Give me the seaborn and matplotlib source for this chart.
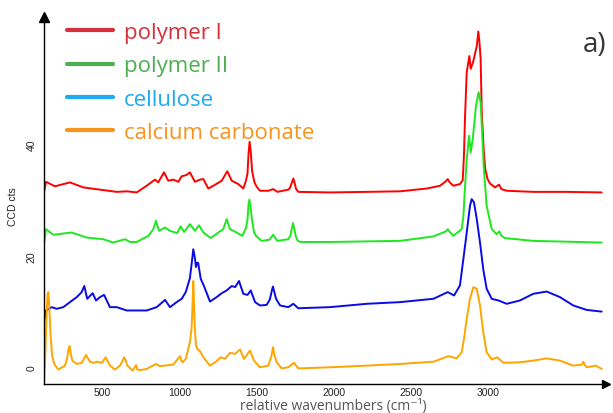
import numpy as np
import pandas as pd
import matplotlib
matplotlib.use("Agg")
import matplotlib.pyplot as plt
from matplotlib.lines import Line2D
import seaborn as sns

# ---------------- data ----------------
series_names = ["polymer I", "polymer II", "cellulose", "calcium carbonate"]

red_wn = [122, 135, 193, 290, 377, 485, 593, 658, 722, 787, 841, 862, 899, 927, 960, 992,
          1014, 1042, 1067, 1100, 1132, 1154, 1186, 1219, 1273, 1309, 1338, 1380, 1413, 1430,
          1440, 1447, 1454, 1461, 1470, 1485, 1500, 1521, 1575, 1607, 1633, 1704, 1715, 1729,
          1737, 1744, 1755, 1770, 1974, 2212, 2428, 2601, 2687, 2725, 2737, 2750, 2773, 2816,
          2834, 2842, 2849, 2860, 2877, 2886, 2903, 2925, 2935, 2942, 2950, 2957, 2970, 2980,
          2995, 3011, 3043, 3069, 3085, 3119, 3291, 3500, 3734]
red_val = [31.4, 33.3, 32.5, 33.2, 32.3, 31.9, 31.5, 31.6, 31.4, 32.6, 33.7, 33.2, 35.0, 33.5, 33.7, 33.3,
           34.3, 34.5, 35.0, 33.3, 33.7, 33.8, 32.1, 32.6, 33.5, 35.2, 33.5, 32.9, 32.1, 33.5,
           34.8, 38.5, 40.5, 38.8, 35.2, 33.2, 32.4, 31.7, 31.7, 32.0, 31.5, 31.9, 32.2, 33.3,
           33.9, 33.2, 32.0, 31.5, 31.4, 31.5, 31.6, 32.1, 32.6, 33.4, 33.8, 33.2, 32.6, 32.9,
           33.6, 38.0, 45.0, 53.0, 55.9, 53.6, 55.0, 57.7, 60.3, 58.5, 55.4, 46.0, 39.0, 35.6,
           33.8, 33.0, 32.3, 32.8, 32.0, 31.7, 31.5, 31.5, 31.4]

green_wn = [122, 135, 182, 301, 399, 506, 571, 647, 679, 722, 798, 830, 847, 867, 906, 938,
            985, 1007, 1029, 1067, 1100, 1126, 1154, 1202, 1251, 1283, 1305, 1327, 1370, 1406,
            1430, 1440, 1446, 1452, 1459, 1469, 1482, 1495, 1532, 1581, 1607, 1633, 1704, 1718,
            1728, 1735, 1742, 1752, 1765, 1785, 1974, 2428, 2644, 2725, 2737, 2750, 2773, 2827,
            2838, 2848, 2860, 2875, 2886, 2899, 2920, 2937, 2950, 2960, 2970, 2989, 3022, 3054,
            3071, 3085, 3108, 3291, 3734]
green_val = [22.1, 24.8, 23.8, 24.2, 23.3, 23.0, 22.4, 23.0, 22.5, 22.5, 23.6, 24.8, 26.3, 24.5, 25.1, 24.5,
             24.1, 25.3, 24.3, 25.7, 24.5, 25.5, 24.2, 23.2, 24.2, 24.8, 26.6, 24.8, 24.2, 23.6,
             25.0, 26.5, 29.0, 30.1, 29.0, 26.5, 24.3, 23.6, 22.7, 22.9, 23.8, 22.7, 23.0, 23.6,
             25.0, 25.9, 25.0, 23.6, 22.7, 22.5, 22.5, 22.7, 23.5, 24.4, 24.8, 24.3, 23.6, 24.8,
             27.0, 32.0, 37.4, 41.6, 38.6, 41.0, 47.0, 49.4, 47.5, 42.0, 36.0, 29.0, 24.8, 23.9,
             24.4, 23.6, 23.2, 22.7, 22.4]

blue_wn = [122, 135, 172, 204, 247, 290, 334, 366, 383, 402, 437, 459, 485, 511, 549, 593,
           658, 722, 787, 852, 906, 938, 981, 1014, 1040, 1067, 1080, 1089, 1100, 1106, 1115,
           1121, 1137, 1158, 1197, 1240, 1273, 1305, 1338, 1360, 1385, 1413, 1440, 1461, 1489,
           1521, 1564, 1585, 1598, 1605, 1614, 1625, 1651, 1704, 1737, 1769, 1974, 2212, 2428,
           2644, 2737, 2778, 2816, 2838, 2860, 2881, 2892, 2907, 2925, 2946, 2967, 2989, 3022,
           3065, 3119, 3205, 3291, 3378, 3464, 3550, 3637, 3734]
blue_val = [8.1, 10.2, 10.8, 10.5, 10.8, 11.7, 12.6, 13.5, 14.6, 12.3, 13.3, 12.0, 12.6, 13.0, 10.8, 10.8,
            10.2, 10.2, 10.2, 10.8, 12.1, 10.8, 11.7, 12.3, 13.5, 16.0, 19.0, 21.2, 19.5, 18.0, 18.8,
            18.7, 15.9, 14.6, 11.8, 12.6, 13.3, 13.8, 14.6, 14.4, 15.5, 13.2, 13.0, 13.8, 11.7,
            11.1, 11.2, 12.2, 13.8, 14.5, 13.5, 12.3, 11.1, 10.8, 11.4, 10.6, 10.8, 11.4, 11.7,
            12.3, 13.5, 12.9, 14.7, 19.4, 24.2, 29.0, 30.2, 29.6, 26.6, 22.4, 17.6, 14.1, 12.3,
            12.0, 11.4, 12.0, 13.2, 13.6, 12.6, 11.1, 10.3, 10.0]

orange_wn = [122, 130, 138, 145, 150, 156, 165, 175, 190, 215, 258, 272, 280, 288, 295, 305,
             334, 366, 394, 420, 442, 467, 496, 522, 549, 582, 614, 632, 640, 650, 662, 696,
             712, 718, 726, 745, 787, 847, 873, 960, 1003, 1012, 1020, 1040, 1067, 1078, 1085,
             1089, 1093, 1098, 1106, 1115, 1132, 1154, 1197, 1240, 1266, 1294, 1327, 1360, 1392,
             1417, 1456, 1482, 1521, 1575, 1595, 1605, 1615, 1629, 1661, 1704, 1741, 1769, 1974,
             2212, 2428, 2644, 2741, 2795, 2827, 2842, 2860, 2881, 2903, 2925, 2946, 2967, 2989,
             3022, 3058, 3097, 3205, 3291, 3378, 3464, 3550, 3608, 3615, 3625, 3637, 3697, 3734]
orange_val = [-3.0, 2.0, 9.0, 13.0, 13.5, 11.0, 5.5, 2.0, 0.5, -0.4, 0.3, 1.6, 3.2, 3.8, 2.5, 1.2,
              0.6, 0.8, 2.2, 1.0, 0.8, 1.0, 0.8, 1.8, 0.3, -0.4, 0.3, 1.2, 1.8, 1.3, 0.3, -0.6,
              0.1, 0.4, -0.4, -0.5, -0.3, 0.6, 0.2, 0.5, 2.0, 1.2, 0.9, 1.5, 4.5, 7.0, 12.0,
              15.5, 12.0, 7.5, 4.0, 3.3, 2.9, 1.8, 0.3, 1.1, 1.8, 1.5, 2.6, 2.4, 3.2,
              1.5, 3.0, 1.2, 0.0, 0.3, 2.0, 3.6, 2.2, 0.9, -0.2, 0.0, 0.8, -0.2, 0.0,
              0.3, 0.6, 1.0, 2.0, 1.6, 2.7, 5.1, 8.7, 12.3, 14.4, 14.1, 11.1, 6.3, 2.7,
              1.4, 1.8, 0.8, 0.9, 1.2, 1.6, 1.2, 0.3, 0.5, 1.0, 0.4, 0.0, 0.3, -0.3]

line_colors = ["#ff0000", "#1ee81e", "#0a0ae6", "#ffa500"]
legend_colors = ["#d7303b", "#4caf50", "#1eaaf0", "#f7941d"]

x_ticks = [500, 1000, 1500, 2000, 2500, 3000]
y_ticks = [0, 20, 40]

# ---------------- figure ----------------
sns.set_theme(style="white")
plt.rcParams["font.family"] = ["Liberation Sans", "DejaVu Sans"]

fig = plt.figure(figsize=(6.13, 4.14), dpi=100)
ax = fig.add_axes([44 / 613, 29 / 414, (606 - 44) / 613, (396 - 29) / 414])

all_wn = [red_wn, green_wn, blue_wn, orange_wn]
all_val = [red_val, green_val, blue_val, orange_val]
for wn, val, col in zip(all_wn, all_val, line_colors):
    sns.lineplot(x=wn, y=val, color=col, lw=1.4, ax=ax, sort=False, estimator=None)

ax.set_xlim(122, 3762)
ax.set_ylim(-3.0, 62.9)
ax.set_xticks(x_ticks)
ax.set_yticks(y_ticks)
ax.set_xticklabels([str(t) for t in x_ticks], fontsize=7.5, color="#222222")
ax.set_yticklabels([str(t) for t in y_ticks], fontsize=7.5, color="#222222",
                   rotation=90, va="center")
ax.tick_params(axis="both", direction="inout", length=7, width=1, color="black", pad=2)
ax.tick_params(axis="x", pad=-1)
for s in ["top", "right"]:
    ax.spines[s].set_visible(False)
for s in ["left", "bottom"]:
    ax.spines[s].set_color("black")
    ax.spines[s].set_linewidth(1.0)

# axis arrows
ax.plot(1, 0, marker=">", color="black", ms=6, transform=ax.transAxes, clip_on=False)
ax.plot(0, 1, marker="^", color="black", ms=7, transform=ax.transAxes, clip_on=False)

ax.set_xlabel("relative wavenumbers (cm\u207b\u00b9)", fontsize=10, color="#555555",
              family=["Open Sans", "DejaVu Sans"], va="center")
ax.xaxis.set_label_coords((333 - 44) / 562, (414 - 406.5 - 29) / 367)
ax.set_ylabel("CCD cts", fontsize=7.5, color="#222222")
ax.yaxis.set_label_coords(-26 / 562, (414 - 207 - 29) / 367)

handles = [Line2D([0], [0], color=c, lw=3) for c in legend_colors]
leg = ax.legend(handles, series_names, loc="upper left",
                bbox_to_anchor=(14 / 562, 1.0 + 4 / 367), frameon=False,
                prop={"family": ["Open Sans", "DejaVu Sans"], "size": 16},
                handlelength=2.07, handletextpad=0.48, labelspacing=0.56,
                borderaxespad=0, labelcolor=legend_colors)

fig.text(583 / 613, 1 - 52 / 414, "a)", fontsize=20, color="#333333",
         family=["Open Sans", "DejaVu Sans"])

fig.savefig("out.png", dpi=100)
